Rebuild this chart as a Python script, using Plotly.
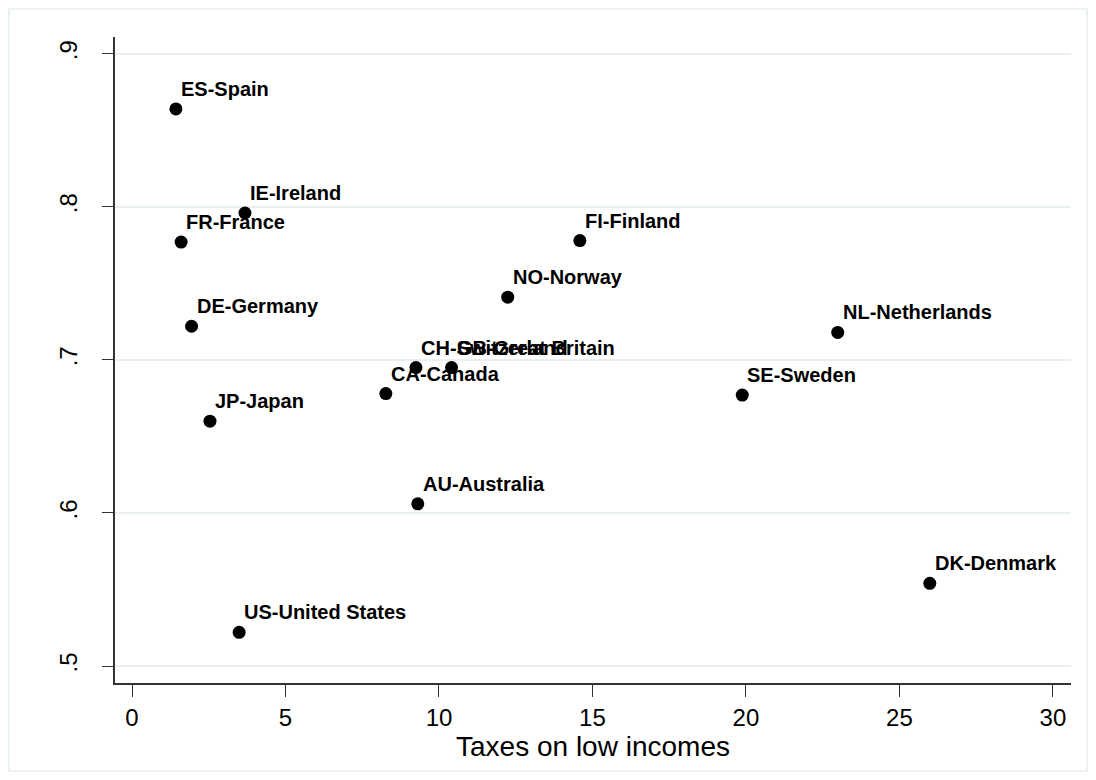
import plotly.graph_objects as go

countries = ["ES-Spain", "IE-Ireland", "FR-France", "DE-Germany", "JP-Japan",
             "US-United States", "CA-Canada", "CH-Switzerland", "GB-Great Britain",
             "NO-Norway", "FI-Finland", "AU-Australia", "SE-Sweden",
             "NL-Netherlands", "DK-Denmark"]
taxes_low = [1.43, 3.68, 1.60, 1.94, 2.54, 3.49, 8.27, 9.25, 10.41,
             12.24, 14.59, 9.31, 19.88, 22.99, 25.99]
yvals = [0.864, 0.796, 0.777, 0.722, 0.660, 0.522, 0.678, 0.695, 0.695,
         0.741, 0.778, 0.606, 0.677, 0.718, 0.554]
xticks = [0, 5, 10, 15, 20, 25, 30]
yticks = [0.5, 0.6, 0.7, 0.8, 0.9]
ytick_text = [".5", ".6", ".7", ".8", ".9"]
x_title = "Taxes on low incomes"

FONT = "Liberation Sans, Arial, sans-serif"

fig = go.Figure()
fig.add_trace(go.Scatter(
    x=taxes_low, y=yvals, mode="markers",
    marker=dict(color="black", size=13, line=dict(width=0)),
    hoverinfo="skip", showlegend=False,
))

for name, xv, yv in zip(countries, taxes_low, yvals):
    fig.add_annotation(
        x=xv, y=yv, text="<b>" + name + "</b>", showarrow=False,
        xanchor="left", yanchor="bottom", xshift=3, yshift=7,
        font=dict(family=FONT, size=20, color="black"),
    )

fig.add_shape(type="rect", xref="paper", yref="paper",
              x0=-0.111, x1=1.0167, y0=-0.1362, y1=1.0433,
              line=dict(color="#e6eef0", width=1.5), layer="below")

fig.update_layout(
    width=1096, height=780,
    margin=dict(l=107, r=33, t=29, b=105),
    paper_bgcolor="white", plot_bgcolor="white",
    font=dict(family=FONT, color="black"),
    xaxis=dict(
        range=[-0.554, 30.59], tickvals=xticks, ticks="outside", ticklen=12,
        tickwidth=1.2, tickcolor="#333333", showline=True, linecolor="#333333",
        linewidth=1.5, showgrid=False, zeroline=False,
        tickfont=dict(size=24, family=FONT, color="black"),
        title=dict(text=x_title, font=dict(size=28, family=FONT, color="black"),
                   standoff=2),
    ),
    yaxis=dict(
        range=[0.4889, 0.911], tickvals=yticks, ticktext=ytick_text,
        ticks="outside", ticklen=11, tickwidth=1.2, tickcolor="#333333",
        showline=True, linecolor="#333333", linewidth=1.5,
        showgrid=True, gridcolor="#e8f0f2", gridwidth=1.5, zeroline=False,
        tickangle=-90, ticklabelstandoff=16,
        tickfont=dict(size=24, family=FONT, color="black"),
    ),
)

fig.write_html("out.html")
